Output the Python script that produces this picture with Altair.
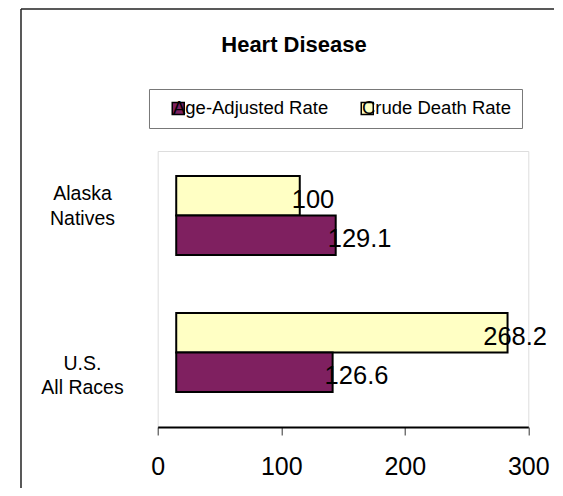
import altair as alt
import pandas as pd

# ---- data ----
categories = ["Alaska|Natives", "U.S.|All Races"]
series_order = ["Crude Death Rate", "Age-Adjusted Rate"]
legend_order = ["Age-Adjusted Rate", "Crude Death Rate"]
crude_rate = [100, 268.2]
age_adjusted_rate = [129.1, 126.6]
x_ticks = [0, 100, 200, 300]

PURPLE = "#7f2060"
YELLOW = "#ffffc4"
FONT = "Liberation Sans"

BAR_BASE = 15      # bars in the original start a little right of zero
LABEL_CAP = 270    # the last value label is pulled back inside the frame

rows = []
for c, cr, aa in zip(categories, crude_rate, age_adjusted_rate):
    rows.append({"cat": c, "series": "Crude Death Rate", "value": cr})
    rows.append({"cat": c, "series": "Age-Adjusted Rate", "value": aa})
df = pd.DataFrame(rows)

W, H = 370.6, 276
PAD = {"left": 149.7, "top": 143, "right": 26, "bottom": 61}

y_enc = alt.Y(
    "cat:N",
    sort=categories,
    scale=alt.Scale(range=[25, 241], paddingInner=0.4234, paddingOuter=0),
    axis=alt.Axis(
        title=None, domain=False, ticks=False, tickSize=0,
        labelExpr="split(datum.label, '|')",
        labelAlign="center", labelBaseline="middle",
        labelPadding=75.7, labelFontSize=19.5, labelFont=FONT,
        labelColor="black", labelLineHeight=24.5,
        labelOffset={"condition": {"test": f"datum.value == '{categories[0]}'", "value": -21},
                     "value": 11.5},
    ),
)
yoff_enc = alt.YOffset("series:N", sort=series_order,
                       scale=alt.Scale(paddingInner=0, paddingOuter=0))

x_scale = alt.Scale(domain=[0, 300], nice=False)

base = alt.Chart(df).transform_calculate(
    start=f"{BAR_BASE}",
    end=f"datum.value + {BAR_BASE}",
    lx=f"min(datum.value + {BAR_BASE}, {LABEL_CAP})",
    label="toString(datum.value)",
)

bars = base.mark_bar(stroke="black", strokeWidth=2).encode(
    x=alt.X(
        "start:Q", scale=x_scale,
        axis=alt.Axis(
            title=None, values=x_ticks, grid=False,
            domainColor="black", domainWidth=2,
            tickColor="#333333", tickSize=8, tickWidth=1,
            labelFontSize=25, labelFont=FONT, labelColor="black",
            labelPadding=20, labelFlush=False,
        ),
    ),
    x2="end:Q",
    y=y_enc,
    yOffset=yoff_enc,
    fill=alt.Fill(
        "series:N",
        scale=alt.Scale(domain=legend_order, range=[PURPLE, YELLOW]),
        legend=alt.Legend(
            title="\u00a0", titleOrient="left", titleFontSize=18, titlePadding=10,
            orient="none", legendX=-8.7, legendY=-62,
            direction="horizontal",
            symbolType="square", symbolSize=144,
            symbolStrokeColor="black", symbolStrokeWidth=1.5,
            labelFont=FONT, labelFontSize=18.5, labelColor="black",
            labelOffset={"expr": "-14.5"}, columnPadding=29,
            strokeColor="#777777", fillColor="white", padding=10,
        ),
    ),
)

labels = base.mark_text(
    align="left", baseline="middle", dx=-8, dy=4,
    fontSize=25.5, font=FONT, color="black",
).encode(
    x=alt.X("lx:Q", scale=x_scale),
    y=alt.Y("cat:N", sort=categories),
    yOffset=alt.YOffset("series:N", sort=series_order),
    text="label:N",
)

frame_df = pd.DataFrame({"k": [0]})
frame_left = alt.Chart(frame_df).mark_rule(color="#222222", strokeWidth=1.5).encode(
    x=alt.value(-136.7), y=alt.value(-142), y2=alt.value(H + PAD["bottom"])
)
frame_top = alt.Chart(frame_df).mark_rule(color="#222222", strokeWidth=1.5).encode(
    x=alt.value(-136.7), x2=alt.value(W + PAD["right"]), y=alt.value(-142)
)

chart = alt.layer(frame_left, frame_top, bars, labels).properties(
    width=W, height=H,
    padding=PAD,
    autosize=alt.AutoSizeParams(type="none"),
    title=alt.TitleParams(
        "Heart Disease", font=FONT, fontSize=22, fontWeight="bold",
        color="black", anchor="middle", frame="group",
        baseline="alphabetic", offset=-66, dx=-49,
    ),
).configure_view(stroke="#888888", strokeWidth=1).configure(background="white")

chart.save("out.html", embed_options={"renderer": "svg", "actions": False})
